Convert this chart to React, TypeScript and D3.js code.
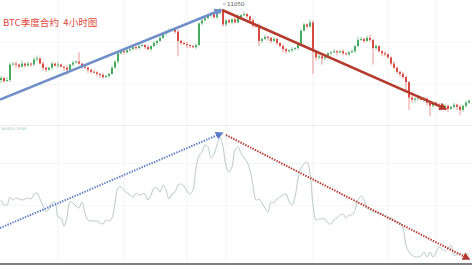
import React from "react";
import * as d3 from "d3";

const W = 472;
const H = 265;

const title = "BTC季度合约\u00a0\u00a04小时图";
const biasLabel = "BIAS(5)-29.69";
const peakLabel = "11050";
const firstOpen = 9650;

const closes = [
  9690, 9630, 9650, 9950, 9970, 9950, 9910, 9970, 9930, 9970,
  9950, 10050, 10070, 9970, 9890, 9850, 9890, 9970, 9930, 9950,
  9910, 9890, 9850, 9950, 9990, 10010, 9970, 9910, 9890, 9850,
  9810, 9800, 9770, 9750, 9710, 9730, 9770, 9890, 10010, 10170,
  10210, 10190, 10230, 10250, 10290, 10270, 10310, 10330, 10290, 10250,
  10310, 10370, 10410, 10470, 10550, 10590, 10610, 10630, 10590, 10410,
  10370, 10350, 10330, 10310, 10290, 10330, 10750, 10810, 10850, 10910,
  10930, 10870, 10950, 10990, 10730, 10810, 10770, 10830, 10770, 10870,
  10910, 10930, 10890, 10810, 10710, 10690, 10410, 10450, 10490, 10470,
  10410, 10450, 10370, 10310, 10250, 10210, 10230, 10250, 10270, 10330,
  10610, 10730, 10690, 10770, 10210, 10090, 10110, 10070, 10090, 10170,
  10190, 10210, 10190, 10210, 10170, 10150, 10190, 10210, 10310, 10430,
  10450, 10410, 10470, 10430, 10270, 10310, 10210, 10170, 10150, 10090,
  9970, 9890, 9810, 9770, 9710, 9610, 9310, 9270, 9290, 9310,
  9270, 9290, 9210, 9150, 9210, 9170, 9130, 9110, 9150, 9090,
  9130, 9170, 9130, 9070, 9150, 9210, 9250,
];

const upperWick = [
  40, 20, 60, 40, 20, 40, 20, 60, 20, 40,
  20, 40, 60, 20, 40, 20, 20, 40, 20, 60,
  20, 20, 40, 20, 40, 20, 180, 20, 40, 20,
  20, 40, 20, 20, 40, 20, 20, 40, 20, 40,
  20, 40, 20, 20, 60, 20, 40, 20, 20, 40,
  20, 40, 20, 40, 20, 20, 40, 20, 20, 40,
  20, 20, 40, 20, 20, 40, 20, 40, 20, 20,
  40, 20, 40, 60, 20, 20, 40, 20, 40, 60,
  20, 40, 20, 20, 40, 20, 60, 20, 40, 20,
  20, 40, 20, 20, 40, 20, 20, 40, 20, 40,
  20, 40, 20, 60, 40, 20, 40, 20, 40, 20,
  20, 40, 20, 20, 40, 20, 20, 40, 20, 60,
  40, 20, 40, 60, 20, 40, 20, 20, 40, 20,
  20, 40, 20, 20, 40, 20, 20, 40, 20, 40,
  20, 40, 20, 40, 20, 20, 40, 20, 40, 20,
  20, 40, 20, 40, 20, 40, 20,
];

const lowerWick = [
  60, 40, 20, 40, 20, 60, 40, 20, 40, 20,
  40, 20, 40, 20, 60, 40, 20, 40, 20, 40,
  20, 60, 100, 20, 40, 20, 20, 40, 20, 60,
  40, 20, 40, 60, 40, 20, 40, 20, 20, 40,
  20, 40, 20, 40, 20, 40, 20, 20, 40, 20,
  40, 20, 40, 20, 20, 40, 20, 20, 40, 300,
  40, 20, 60, 40, 20, 40, 20, 40, 20, 20,
  40, 20, 40, 20, 40, 40, 20, 40, 20, 20,
  40, 20, 40, 20, 40, 20, 100, 40, 20, 60,
  40, 20, 40, 20, 60, 40, 20, 40, 20, 40,
  20, 20, 40, 20, 440, 60, 40, 120, 40, 20,
  40, 20, 60, 20, 40, 20, 40, 20, 40, 20,
  20, 40, 20, 40, 320, 40, 20, 60, 40, 20,
  40, 20, 40, 60, 40, 160, 240, 60, 60, 40,
  20, 40, 60, 200, 40, 40, 60, 20, 40, 60,
  20, 40, 60, 100, 40, 40, 20,
];

const bias = [
  -0.5, -1.0, -1.0, -0.2, -0.5, -0.3, -0.4, -0.5, -0.4, -0.3,
  -0.4, 0.1, 0.2, -0.4, -1.1, -1.7, -1.4, -0.8, -0.7, -2.2,
  -2.3, -3.1, -2.2, -0.7, -0.8, -1.1, -1.3, -0.7, -1.8, -2.5,
  -2.6, -2.6, -2.6, -2.8, -2.9, -2.5, -2.6, -2.3, -0.8, 0.7,
  0.8, 0.5, 0.2, 0.0, -0.2, 0.2, 0.0, 0.1, 0.1, -0.5,
  0.0, 0.7, 0.7, 0.3, 1.0, 0.5, -0.4, 0.1, 0.3, 1.0,
  1.1, 0.9, 0.4, 0.1, 0.5, 2.7, 3.9, 4.3, 5.0, 4.8,
  3.7, 4.1, 5.0, 5.8, 4.8, 2.9, 2.3, 2.8, 4.5, 4.8,
  4.2, 3.7, 3.3, 2.5, 1.0, -0.5, -0.4, -0.8, -1.3, -1.7,
  -0.7, -0.8, -0.4, -0.2, 0.0, 0.1, -0.6, -1.0, -0.2, 1.6,
  2.7, 3.1, 3.3, 2.2, -1.0, -2.5, -2.4, -2.4, -2.4, -2.8,
  -2.9, -2.5, -2.3, -2.0, -1.9, -2.3, -2.0, -2.0, -1.5, -0.5,
  -0.1, -0.5, -1.3, -1.5, -1.7, -1.7, -1.8, -1.9, -2.1, -2.3,
  -2.3, -2.5, -2.7, -2.8, -3.3, -5.0, -5.7, -6.0, -6.2, -6.2,
  -6.1, -5.7, -6.2, -5.7, -6.2, -5.8, -5.2, -5.4, -5.6, -5.4,
  -5.0, -6.0, -6.0, -5.8, -6.0, -5.8, -6.0,
];

// trend lines: [index, value] endpoints
const priceUp = [[-0.33, 9270], [73.3, 11010]];
const priceDown = [[73.7, 11010], [148.3, 9090]];
const biasUp = [[-0.33, -3.3], [73.0, 6.1]];
const biasDown = [[75.0, 6.0], [155.3, -6.3]];

const vGrid = [19, 41, 62, 75, 104, 129, 145];

export default function App() {
  const n = closes.length;
  const x = d3.scaleLinear().domain([0, n - 1]).range([1, 469]);
  const yP = d3.scaleLinear().domain([9000, 11050]).range([113.5, 8]);
  const yB = d3.scaleLinear().domain([-6.5, 6.5]).range([260, 130]);

  const candles = closes.map((c, i) => {
    const o = i === 0 ? firstOpen : closes[i - 1];
    const hi = Math.max(o, c) + upperWick[i];
    const lo = Math.min(o, c) - lowerWick[i];
    return { i, o, c, hi, lo, up: c >= o };
  });

  const biasLine = d3
    .line<number>()
    .x((_, i) => x(i))
    .y((d) => yB(d))
    .curve(d3.curveCatmullRom.alpha(0.5));

  const seg = (pts: number[][], ys: (v: number) => number) =>
    d3.line<number[]>().x((d) => x(d[0])).y((d) => ys(d[1]))(pts) || "";

  const green = "#46ab5f";
  const red = "#d94a42";

  return (
    <svg
      width={W}
      height={H}
      style={{ position: "fixed", left: 0, top: 0, background: "#fff" }}
    >
      <defs>
        <marker id="arBlue" viewBox="0 0 10 10" refX="8" refY="5" markerWidth="8" markerHeight="8" markerUnits="userSpaceOnUse" orient="auto">
          <path d="M0,0 L10,5 L0,10 z" fill="#6f8fc8" />
        </marker>
        <marker id="arRed" viewBox="0 0 10 10" refX="8" refY="5" markerWidth="8" markerHeight="8" markerUnits="userSpaceOnUse" orient="auto">
          <path d="M0,0 L10,5 L0,10 z" fill="#b33a2c" />
        </marker>
        <marker id="trBlue" viewBox="0 0 10 10" refX="5" refY="5" markerWidth="8" markerHeight="8" markerUnits="userSpaceOnUse" orient="auto">
          <path d="M0,0 L10,5 L0,10 z" fill="#5a7cc4" />
        </marker>
        <marker id="trRed" viewBox="0 0 10 10" refX="5" refY="5" markerWidth="8" markerHeight="8" markerUnits="userSpaceOnUse" orient="auto">
          <path d="M0,0 L10,5 L0,10 z" fill="#b5362c" />
        </marker>
      </defs>

      {/* faint grid */}
      {vGrid.map((g) => (
        <line key={g} x1={x(g)} x2={x(g)} y1={0} y2={262} stroke="#f2f2f2" strokeWidth={1} />
      ))}
      <line x1={0} x2={W} y1={125.5} y2={125.5} stroke="#ececec" strokeWidth={1} />
      <line x1={0} x2={W} y1={163.5} y2={163.5} stroke="#f4f4f4" strokeWidth={1} />
      <line x1={0} x2={W} y1={42.5} y2={42.5} stroke="#f6f6f6" strokeWidth={1} />
      <line x1={0} x2={W} y1={84.5} y2={84.5} stroke="#f6f6f6" strokeWidth={1} />
      <line x1={0} x2={W} y1={205.5} y2={205.5} stroke="#f6f6f6" strokeWidth={1} />

      {/* candles */}
      {candles.map((d) => {
        const col = d.up ? green : red;
        const top = yP(Math.max(d.o, d.c));
        const bot = yP(Math.min(d.o, d.c));
        return (
          <g key={d.i}>
            <line x1={x(d.i)} x2={x(d.i)} y1={yP(d.hi)} y2={yP(d.lo)} stroke={col} strokeWidth={0.8} opacity={0.7} />
            <rect x={x(d.i) - 1} y={top} width={2} height={Math.max(0.8, bot - top)} fill={col} />
          </g>
        );
      })}

      {/* price trend lines */}
      <path d={seg(priceUp, yP)} stroke="#6f8fc8" strokeWidth={2.6} fill="none" markerEnd="url(#arBlue)" />
      <path d={seg(priceDown, yP)} stroke="#b33a2c" strokeWidth={2.6} fill="none" markerEnd="url(#arRed)" />

      {/* peak label */}
      <line x1={x(73.7) + 1} x2={x(73.7) + 3.5} y1={4} y2={4} stroke="#555" strokeWidth={0.6} />
      <text x={x(73.7) + 5} y={6} fontSize={5.5} fill="#555" fontFamily="DejaVu Sans, sans-serif">
        {peakLabel}
      </text>

      {/* title */}
      <text x={3} y={26} fontSize={9.6} fill="#e2463b" fontFamily="'Noto Sans CJK SC', 'Noto Sans', sans-serif">
        {title}
      </text>

      {/* bias panel */}
      <text x={1.5} y={129.5} fontSize={3.6} fill="#8fcab6" fontFamily="DejaVu Sans, sans-serif">
        {biasLabel}
      </text>
      <path d={biasLine(bias) || ""} stroke="#b9cbc6" strokeWidth={1} fill="none" />

      <path d={seg(biasUp, yB)} stroke="#5a7cc4" strokeWidth={2} strokeDasharray="1.4 1.3" fill="none" markerEnd="url(#trBlue)" />
      <path d={seg(biasDown, yB)} stroke="#b5362c" strokeWidth={2} strokeDasharray="1.4 1.3" fill="none" markerEnd="url(#trRed)" />

      {/* bottom border */}
      <rect x={0} y={263} width={W} height={2} fill="#7d7d7d" />
    </svg>
  );
}
